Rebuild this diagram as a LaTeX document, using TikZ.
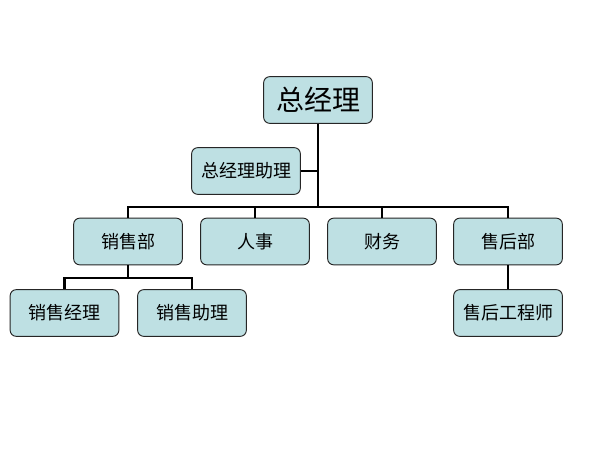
\documentclass[tikz,border=0pt]{standalone}
\usepackage{fontspec}
\setmainfont{Noto Sans CJK SC}
\usepackage{tikz}
\usetikzlibrary{positioning}
\definecolor{boxfill}{HTML}{BEE0E3}

\begin{document}
\begin{tikzpicture}[-,x=0.75pt,y=-0.75pt]
\tikzstyle{post}=[rectangle,rounded corners=4.5pt,draw=black!85,line width=0.7pt,fill=boxfill,minimum width=81.5pt,minimum height=35pt,inner sep=1pt,font=\fontsize{13.5}{15}\selectfont]
\tikzstyle{link}=[draw=black,line width=2.2pt]

\useasboundingbox (0,0) rectangle (614,460);

\node [post] (0) at(318,100)[font=\fontsize{21}{24}\selectfont] {总经理};
\node [post] (1) at(246,171) {总经理助理};
\node [post] (2) at(128,241.5) {销售部};
\node [post] (3) at(255,241.5) {人事};
\node [post] (4) at(382,241.5) {财务};
\node [post] (5) at(508,241.5) {售后部};
\node [post] (6) at(64.5,313) {销售经理};
\node [post] (7) at(192,313) {销售助理};
\node [post] (8) at(508,313) {售后工程师};

\coordinate (b) at(318,207);
\coordinate (s) at(128,278);

\path [link] (0) -- (b);
\path [link] (1) -- (1 -| b);
\path [link] (2.north) |- (b);
\path [link] (3.north) |- (b);
\path [link] (4.north) |- (b);
\path [link] (5.north) |- (b);
\path [link] (2) -- (s);
\path [link] (6.north) |- (s);
\path [link] (7.north) |- (s);
\path [link] (5) -- (8);
\end{tikzpicture}
\end{document}
